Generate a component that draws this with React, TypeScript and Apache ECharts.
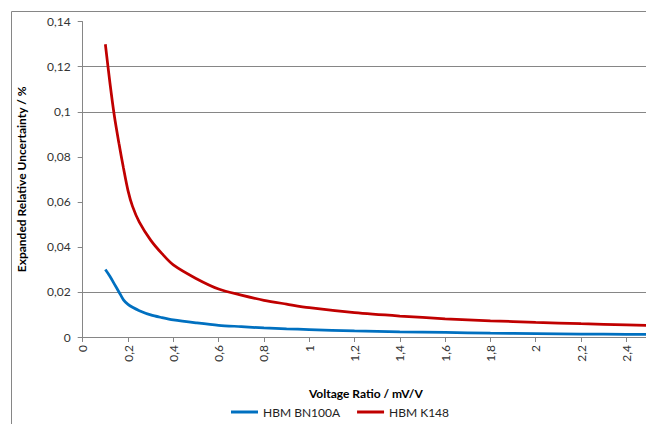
import React, { useEffect, useRef } from "react";
import * as echarts from "echarts";

const voltageRatio = [0.1, 0.12, 0.14, 0.16, 0.18, 0.2, 0.22, 0.25, 0.3, 0.35, 0.4, 0.5, 0.6, 0.7, 0.8, 0.9, 1.0, 1.2, 1.4, 1.6, 1.8, 2.0, 2.2, 2.4, 2.5];
const bn100a = [0.030, 0.027, 0.0235, 0.020, 0.0165, 0.0145, 0.0132, 0.0117, 0.0098, 0.0086, 0.0076, 0.0063, 0.0052, 0.0046, 0.0040, 0.0036, 0.0033, 0.0027, 0.0023, 0.0020, 0.0017, 0.0015, 0.0013, 0.0012, 0.0011];
const k148 = [0.13, 0.113, 0.098, 0.086, 0.075, 0.065, 0.058, 0.051, 0.043, 0.037, 0.032, 0.026, 0.0213, 0.0186, 0.0163, 0.0146, 0.013, 0.0108, 0.0093, 0.0081, 0.0072, 0.0065, 0.0059, 0.0054, 0.0051];
const seriesNames = ["HBM BN100A", "HBM K148"];
const xTitle = "Voltage Ratio / mV/V";
const yTitle = "Expanded Relative Uncertainty / %";

const fmt = (v: number) => String(+v.toFixed(2)).replace(".", ",");
const FONT = "Lato, 'Open Sans', sans-serif";

export default function App() {
  const ref = useRef<HTMLDivElement>(null);
  useEffect(() => {
    if (!ref.current) return;
    const chart = echarts.init(ref.current, null, { renderer: "svg" });
    const gridColors = ["#868686", "#868686", "transparent", "transparent", "transparent", "#868686", "#868686", "transparent"];
    chart.setOption({
      animation: false,
      backgroundColor: "#ffffff",
      textStyle: { fontFamily: FONT },
      graphic: [
        {
          type: "rect",
          shape: { x: 11.5, y: 11.5, width: 700, height: 500 },
          style: { fill: "none", stroke: "#868686", lineWidth: 1 },
          silent: true,
        },
      ],
      legend: {
        left: 226,
        top: 401,
        itemWidth: 27,
        itemHeight: 3,
        itemGap: 17,
        icon: "rect",
        textStyle: { fontFamily: FONT, fontSize: 12, color: "#222" },
        data: seriesNames,
      },
      grid: {
        left: 82.7,
        top: 21.7,
        right: -3,
        bottom: 87,
        containLabel: false,
        outerBoundsMode: "none",
      },
      xAxis: {
        type: "value",
        min: 0,
        max: 2.5,
        interval: 0.2,
        name: xTitle,
        nameLocation: "middle",
        nameGap: 50,
        nameTextStyle: { fontFamily: FONT, fontWeight: "bold", fontSize: 12, color: "#000" },
        axisLine: { show: true, lineStyle: { color: "#868686", width: 1 } },
        axisTick: { show: true, inside: false, length: 5, lineStyle: { color: "#868686" } },
        axisLabel: { rotate: 90, margin: 8, fontSize: 12, color: "#333", fontFamily: FONT, showMaxLabel: false, formatter: (v: number) => fmt(v) },
        splitLine: { show: false },
      },
      yAxis: {
        type: "value",
        min: 0,
        max: 0.14,
        interval: 0.02,
        name: yTitle,
        nameLocation: "middle",
        nameGap: 55,
        nameTextStyle: { fontFamily: FONT, fontWeight: "bold", fontSize: 12, color: "#000" },
        axisLine: { show: true, lineStyle: { color: "#868686", width: 1 } },
        axisTick: { show: true, inside: false, length: 5, lineStyle: { color: "#868686" } },
        axisLabel: { margin: 12, fontSize: 12, color: "#333", fontFamily: FONT, formatter: (v: number) => fmt(v) },
        splitLine: { show: true, lineStyle: { color: gridColors, width: 1 } },
      },
      series: [
        {
          name: seriesNames[0],
          type: "line",
          data: voltageRatio.map((x, i) => [x, bn100a[i]]),
          showSymbol: false,
          smooth: 0.3,
          lineStyle: { color: "#0070C0", width: 2.75 },
          itemStyle: { color: "#0070C0" },
        },
        {
          name: seriesNames[1],
          type: "line",
          data: voltageRatio.map((x, i) => [x, k148[i]]),
          showSymbol: false,
          smooth: 0.3,
          lineStyle: { color: "#C00000", width: 2.75 },
          itemStyle: { color: "#C00000" },
        },
      ],
    });
    return () => chart.dispose();
  }, []);
  return <div ref={ref} style={{ position: "fixed", left: 0, top: 0, width: 646, height: 424 }} />;
}
